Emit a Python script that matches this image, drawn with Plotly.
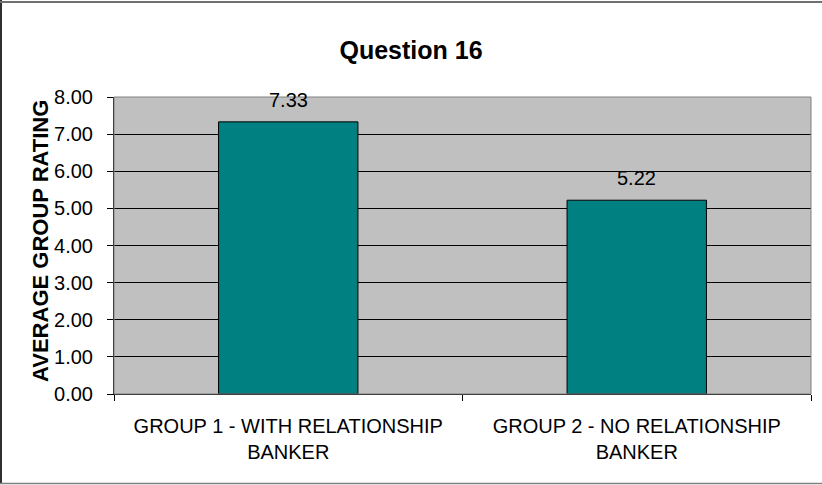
import plotly.graph_objects as go

categories = ["GROUP 1 - WITH RELATIONSHIP<br>BANKER", "GROUP 2 - NO RELATIONSHIP<br>BANKER"]
values = [7.33, 5.22]
value_labels = ["7.33", "5.22"]
y_ticks = [0, 1, 2, 3, 4, 5, 6, 7, 8]
y_tick_labels = ["0.00", "1.00", "2.00", "3.00", "4.00", "5.00", "6.00", "7.00", "8.00"]

W, H = 822, 485
L, R, T, B = 114, 11, 97, 91
pw, ph = W - L - R, H - T - B

FONT = "Liberation Sans, Arial, sans-serif"


def px_x(p):
    return (p - L) / pw


def px_y(p):
    return 1 - (p - T) / ph


fig = go.Figure()
fig.add_trace(go.Bar(
    x=categories, y=values,
    marker=dict(color="#008080", line=dict(color="#000000", width=1)),
    width=0.4, showlegend=False, hoverinfo="skip",
))

annotations = []
for c, v, t in zip(categories, values, value_labels):
    annotations.append(dict(x=c, y=v, xref="x", yref="y", text=t, showarrow=False,
                            yanchor="bottom", yshift=9,
                            font=dict(family=FONT, size=20, color="#000000")))
annotations.append(dict(x=px_x(40), y=px_y(241), xref="paper", yref="paper",
                        text="<b>AVERAGE GROUP RATING</b>", textangle=-90, showarrow=False,
                        xanchor="center", yanchor="middle",
                        font=dict(family=FONT, size=22, color="#000000")))

shapes = [
    # plot area border (gray)
    dict(type="rect", xref="paper", yref="paper", x0=0, x1=1, y0=0, y1=1,
         line=dict(color="#808080", width=1), layer="above"),
    # outer chart border: left, top, bottom
    dict(type="line", xref="paper", yref="paper", x0=px_x(1), x1=px_x(1),
         y0=px_y(0), y1=px_y(484), line=dict(color="#303030", width=2)),
    dict(type="line", xref="paper", yref="paper", x0=px_x(0), x1=px_x(822),
         y0=px_y(2), y1=px_y(2), line=dict(color="#707070", width=2)),
    dict(type="line", xref="paper", yref="paper", x0=px_x(0), x1=px_x(822),
         y0=px_y(483.5), y1=px_y(483.5), line=dict(color="#808080", width=1.5)),
]

fig.update_layout(
    width=W, height=H,
    margin=dict(l=L, r=R, t=T, b=B, pad=0),
    paper_bgcolor="#FFFFFF", plot_bgcolor="#C0C0C0",
    font=dict(family=FONT, size=20, color="#000000"),
    title=dict(text="<b>Question 16</b>", x=0.5, xref="container", xanchor="center",
               y=1 - 50 / H, yref="container", yanchor="middle",
               font=dict(family=FONT, size=25, color="#000000")),
    bargap=0.6,
    annotations=annotations,
    shapes=shapes,
)
fig.update_xaxes(showgrid=False, showline=True, linecolor="#000000", linewidth=1,
                 ticks="outside", ticklen=6, tickcolor="#000000", tickson="boundaries",
                 ticklabelstandoff=14, tickfont=dict(family=FONT, size=20), zeroline=False)
fig.update_yaxes(range=[0, 8], tickvals=y_ticks, ticktext=y_tick_labels,
                 showgrid=True, gridcolor="#000000", gridwidth=1,
                 showline=True, linecolor="#000000", linewidth=1,
                 ticks="outside", ticklen=6, tickcolor="#000000",
                 ticklabelstandoff=10, tickfont=dict(family=FONT, size=20), zeroline=False)

fig.write_html("out.html", config={"displayModeBar": False},
               post_script="document.body.style.margin='0';document.body.style.overflow='hidden';")
